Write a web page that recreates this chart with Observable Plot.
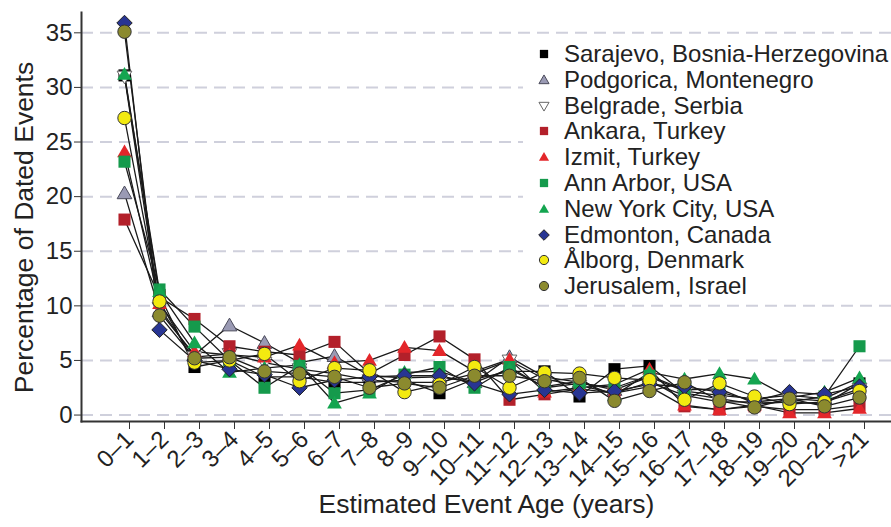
<!DOCTYPE html>
<html><head><meta charset="utf-8">
<script src="https://cdn.jsdelivr.net/npm/d3@7"></script>
<script src="https://cdn.jsdelivr.net/npm/@observablehq/plot@0.6"></script>
<style>
body{margin:0;background:#fff;font-family:"Liberation Sans",Arial,sans-serif;}
#wrap{position:relative;width:891px;height:527px;overflow:hidden;}
#legend{position:absolute;left:523px;top:38px;width:368px;height:262px;background:#fff;}
.row{position:absolute;left:0;height:26px;display:flex;align-items:center;font-size:24px;color:#222;white-space:nowrap;}
.row svg{margin-left:11px;margin-right:10px;}
</style></head><body><div id="wrap"></div>
<script>
const ages = ["0–1","1–2","2–3","3–4","4–5","5–6","6–7","7–8","8–9","9–10","10–11","11–12","12–13","13–14","14–15","15–16","16–17","17–18","18–19","19–20","20–21",">21"];
const yTicks = [0,5,10,15,20,25,30,35];
const cities = ["Sarajevo, Bosnia-Herzegovina","Podgorica, Montenegro","Belgrade, Serbia","Ankara, Turkey","Izmit, Turkey","Ann Arbor, USA","New York City, USA","Edmonton, Canada","Ålborg, Denmark","Jerusalem, Israel"];
const sarajevo  = [31.1,11.0,4.4,5.0,3.5,3.5,3.0,3.0,3.2,2.0,3.3,4.0,4.0,1.7,4.2,4.5,2.0,1.5,1.0,1.2,1.0,2.9];
const podgorica = [20.3,9.5,5.5,8.2,6.6,4.8,5.4,3.6,3.4,3.5,3.0,5.3,3.5,3.0,2.3,3.5,2.2,1.8,1.5,1.8,1.5,3.0];
const belgrade  = [31.0,9.8,5.3,5.6,4.8,4.2,3.8,3.2,3.0,3.0,3.8,5.0,3.3,2.7,2.0,3.0,1.8,1.2,1.2,1.5,1.3,2.4];
const ankara    = [17.9,10.8,8.8,6.3,5.8,5.5,6.7,3.8,5.5,7.2,5.1,1.4,1.9,2.4,2.0,2.6,0.8,0.5,0.8,0.5,0.5,0.9];
const izmit     = [24.1,10.2,5.8,5.5,5.3,6.4,4.8,5.0,6.2,5.9,4.0,5.1,2.1,2.5,2.8,4.2,0.9,0.5,0.9,0.2,0.2,0.6];
const annArbor  = [23.2,11.5,8.1,5.0,2.5,4.5,2.0,2.3,3.7,4.4,2.5,4.4,2.5,2.9,2.5,3.6,2.3,2.4,1.1,1.2,1.7,6.3];
const newYork   = [31.2,11.3,6.6,3.9,4.3,4.6,1.1,2.0,3.9,4.0,3.0,4.2,2.6,3.1,1.8,3.9,3.3,3.8,3.3,1.6,2.1,3.4];
const edmonton  = [35.9,7.8,5.0,4.2,3.7,2.5,3.2,3.5,3.6,3.6,2.9,1.9,2.3,2.0,2.2,2.8,2.6,2.1,1.3,2.1,1.9,2.6];
const alborg    = [27.2,10.4,4.8,5.0,5.6,3.1,4.3,4.1,2.1,2.8,4.4,2.5,3.9,3.8,3.4,3.2,1.4,2.9,1.7,1.0,1.2,2.2];
const jerusalem = [35.1,9.1,5.2,5.3,4.0,3.8,3.5,2.5,2.9,2.5,3.6,3.6,3.1,3.4,1.3,2.2,3.0,1.3,0.7,1.5,0.8,1.6];
const seriesValues = [sarajevo,podgorica,belgrade,ankara,izmit,annArbor,newYork,edmonton,alborg,jerusalem];

// marker shapes
const square = {draw(c,s){const r=Math.sqrt(s/Math.PI)*0.9;c.rect(-r,-r,2*r,2*r);}};
const triUp = {draw(c,s){const r=Math.sqrt(s/Math.PI);c.moveTo(0,-r*1.1);c.lineTo(r*1.1,r*0.8);c.lineTo(-r*1.1,r*0.8);c.closePath();}};
const triDown = {draw(c,s){const r=Math.sqrt(s/Math.PI);c.moveTo(0,r*1.1);c.lineTo(r*1.1,-r*0.8);c.lineTo(-r*1.1,-r*0.8);c.closePath();}};
const diamond = {draw(c,s){const r=Math.sqrt(s/Math.PI)*1.15;c.moveTo(0,-r);c.lineTo(r,0);c.lineTo(0,r);c.lineTo(-r,0);c.closePath();}};
const circle = {draw(c,s){const r=Math.sqrt(s/Math.PI);c.moveTo(r,0);c.arc(0,0,r,0,2*Math.PI);c.closePath();}};
const styles = [
  {symbol:square, fill:"#000000", stroke:"none"},
  {symbol:triUp, fill:"#9a9ab4", stroke:"#4a4a5a"},
  {symbol:triDown, fill:"#ffffff", stroke:"#666666"},
  {symbol:square, fill:"#b3202a", stroke:"none"},
  {symbol:triUp, fill:"#e3262a", stroke:"none"},
  {symbol:square, fill:"#159a4c", stroke:"none"},
  {symbol:triUp, fill:"#14a550", stroke:"none"},
  {symbol:diamond, fill:"#283593", stroke:"#222"},
  {symbol:circle, fill:"#f3ea10", stroke:"#333"},
  {symbol:circle, fill:"#8b8a2e", stroke:"#333"}
];

const rows = [];
cities.forEach((city,k)=>seriesValues[k].forEach((v,i)=>rows.push({city, age:ages[i], value:v})));

const dotMarks = cities.map((city,k)=>Plot.dot(rows.filter(d=>d.city===city),{
  x:"age", y:"value", r:6.7, symbol:styles[k].symbol, fill:styles[k].fill, stroke:styles[k].stroke, strokeWidth:1
}));

const chart = Plot.plot({
  width:891, height:527,
  marginLeft:81, marginRight:0, marginTop:12, marginBottom:106,
  style:{fontFamily:"Liberation Sans, Arial, sans-serif", color:"#222", background:"transparent", overflow:"visible"},
  x:{type:"point", domain:ages, range:[99.5,882.8]},
  y:{domain:[-0.59,36.86]},
  marks:[
    Plot.gridY(yTicks,{stroke:"#cfd0dc", strokeOpacity:1, strokeWidth:2, strokeDasharray:"12,7"}),
    Plot.axisY(yTicks,{tickSize:7, tickPadding:2, fontSize:24, label:null, stroke:"#333"}),
    Plot.axisX({tickRotate:-45, tickSize:8, fontSize:24, dx:5, label:null, stroke:"#333"}),
    Plot.frame({anchor:"left", stroke:"#333", strokeWidth:2}),
    Plot.frame({anchor:"bottom", stroke:"#333", strokeWidth:2}),
    Plot.text(["Percentage of Dated Events"],{frameAnchor:"left", textAnchor:"middle", rotate:-90, dx:-57, dy:10.5, fontSize:26.5, fill:"#222"}),
    Plot.text(["Estimated Event Age (years)"],{frameAnchor:"bottom", textAnchor:"middle", dy:91, fontSize:26.5, fill:"#222"}),
    Plot.line(rows,{x:"age", y:"value", z:"city", stroke:"#1a1a1a", strokeWidth:1.3}),
    ...dotMarks
  ]
});
const wrap = document.getElementById("wrap");
wrap.appendChild(chart);

// legend
const legend = document.createElement("div");
legend.id = "legend";
cities.forEach((city,k)=>{
  const row = document.createElement("div");
  row.className = "row";
  row.style.top = (3 + 25.8*k) + "px";
  const p = d3.path();
  styles[k].symbol.draw(p, Math.PI*4.6*4.6);
  const svg = `<svg width="20" height="20" viewBox="-10 -10 20 20"><path d="${p.toString()}" fill="${styles[k].fill}" stroke="${styles[k].stroke}" stroke-width="1"/></svg>`;
  row.innerHTML = svg + `<span>${city}</span>`;
  legend.appendChild(row);
});
wrap.appendChild(legend);
</script></body></html>
